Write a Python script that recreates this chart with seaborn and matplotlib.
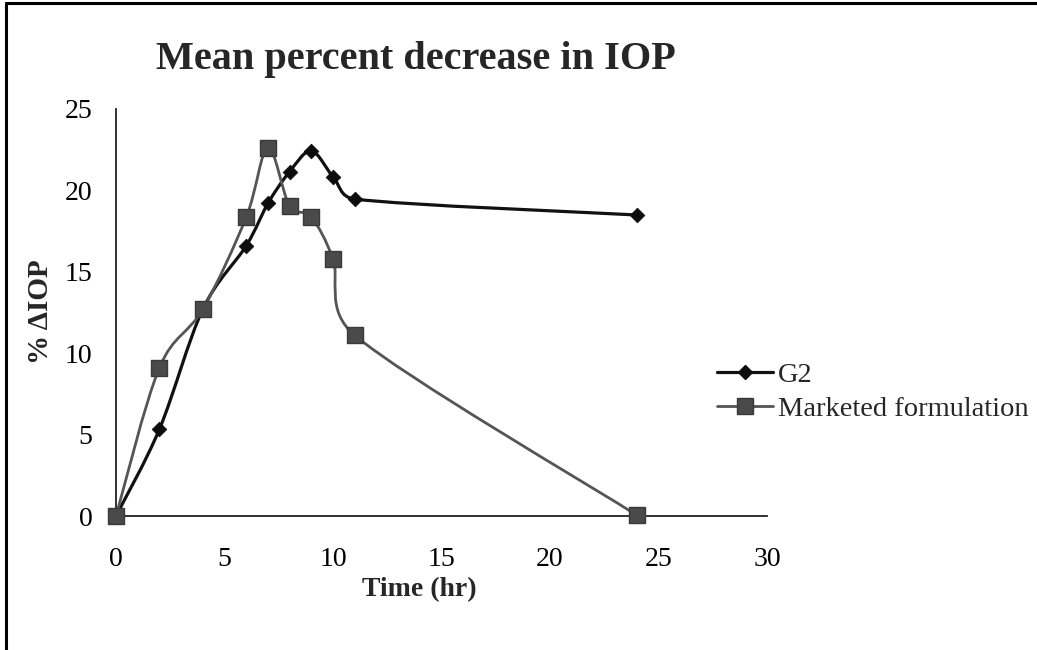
import numpy as np
import pandas as pd
import seaborn as sns
import matplotlib
matplotlib.use("Agg")
import matplotlib.pyplot as plt
from matplotlib.path import Path
from matplotlib.patches import PathPatch
from matplotlib.lines import Line2D

# ---- data ----
time_hr = [0, 2, 4, 6, 7, 8, 9, 10, 11, 24]
g2 = [0, 5.33, 12.7, 16.6, 19.2, 21.15, 22.42, 20.84, 19.47, 18.49]
marketed = [0, 9.11, 12.7, 18.35, 22.6, 19.04, 18.35, 15.79, 11.1, 0.05]
series_names = ["G2", "Marketed formulation"]

sns.set_theme(style="white")
plt.rcParams["font.family"] = ["Liberation Serif", "DejaVu Serif"]

fig = plt.figure(figsize=(10.37, 6.5), dpi=100)
ax = fig.add_axes([116/1037, 1 - 516/650, (767 - 116)/1037, (516 - 109)/650])

df = pd.DataFrame({
    "Time": time_hr * 2,
    "val": g2 + marketed,
    "series": [series_names[0]] * len(time_hr) + [series_names[1]] * len(time_hr),
})

# screen scale (px per data unit) used for Excel-like smoothing distances
SX = (767 - 116) / 30.0
SY = (516 - 109) / 25.0


def smooth_path(xs, ys):
    # Excel-style smoothed line: Bezier segments with tension 1/6,
    # control arms capped at half the segment length (in screen space)
    pts = np.column_stack([xs, ys]).astype(float)
    scr = pts * np.array([SX, SY])
    n = len(pts)
    verts = [pts[0]]
    codes = [Path.MOVETO]
    for i in range(n - 1):
        i0 = i - 1 if i > 0 else i
        i3 = i + 2 if i + 2 < n else i + 1
        d02 = np.linalg.norm(scr[i + 1] - scr[i0])
        d12 = np.linalg.norm(scr[i + 1] - scr[i])
        d13 = np.linalg.norm(scr[i3] - scr[i])
        f = 1 / 6.0
        g = 1 / 6.0
        if d02 > 0 and d02 / 6.0 >= d12 / 2.0:
            f = d12 / (2.0 * d02)
        if d13 > 0 and d13 / 6.0 >= d12 / 2.0:
            g = d12 / (2.0 * d13)
        c1 = pts[i] + (pts[i + 1] - pts[i0]) * f
        c2 = pts[i + 1] - (pts[i3] - pts[i]) * g
        verts += [c1, c2, pts[i + 1]]
        codes += [Path.CURVE4] * 3
    return Path(verts, codes)


line_colors = ["#111111", "#555555"]
line_widths = [2.3, 2.0]
line_z = [2.0, 3.0]
for name, lc, lw, z in zip(series_names, line_colors, line_widths, line_z):
    sub = df[df["series"] == name]
    ax.add_patch(PathPatch(smooth_path(sub["Time"].values, sub["val"].values),
                           facecolor="none", edgecolor=lc, lw=lw, zorder=z))

sns.scatterplot(data=df[df["series"] == series_names[0]], x="Time", y="val",
                marker="D", s=55, color="#0d0d0d", edgecolor="#0d0d0d",
                ax=ax, zorder=2.5, legend=False)
sns.scatterplot(data=df[df["series"] == series_names[1]], x="Time", y="val",
                marker="s", s=140, color="#4a4a4a", edgecolor="#3a3a3a",
                linewidth=1, ax=ax, zorder=3.5, legend=False, clip_on=False)

ax.set_xlim(0, 30)
ax.set_ylim(0, 25)
ax.set_xticks([0, 5, 10, 15, 20, 25, 30])
ax.set_yticks([0, 5, 10, 15, 20, 25])
for sp in ["top", "right"]:
    ax.spines[sp].set_visible(False)
for sp in ["left", "bottom"]:
    ax.spines[sp].set_color("#222222")
    ax.spines[sp].set_linewidth(1.3)
ax.tick_params(axis="both", direction="out", length=7, width=1.3,
               color="#222222", labelsize=20, labelcolor="black")
ax.tick_params(axis="x", pad=15)
ax.tick_params(axis="y", pad=10)
ax.set_xlabel("Time (hr)", fontsize=20, fontweight="bold")
ax.xaxis.set_label_coords((419 - 116) / 651, (516 - 590) / 407)
ax.xaxis.label.set_va("center")
ax.set_ylabel("% \u0394IOP", fontsize=21, fontweight="bold",
              family=["Liberation Serif", "DejaVu Serif"])
ax.yaxis.set_label_coords((41 - 116) / 651, (516 - 312) / 407)
ax.yaxis.label.set_va("center")
for lab in ax.get_xticklabels() + ax.get_yticklabels():
    lab.set_fontfamily(["Liberation Serif", "DejaVu Serif"])

fig.text(416/1037, 1 - 60/650, "Mean percent decrease in IOP", ha="center",
         va="center", fontsize=29, fontweight="bold")

handles = [
    Line2D([0], [0], color=line_colors[0], lw=2.3, marker="D", markersize=7.5,
           markerfacecolor="#0d0d0d", markeredgecolor="#0d0d0d"),
    Line2D([0], [0], color=line_colors[1], lw=2.0, marker="s", markersize=11,
           markerfacecolor="#4a4a4a", markeredgecolor="#3a3a3a"),
]
fig.legend(handles, series_names, loc="center left",
           bbox_to_anchor=(717/1037, 1 - 392/650), frameon=False,
           fontsize=20.5, handlelength=1.95, handletextpad=0.2, labelspacing=0.3,
           borderpad=0, borderaxespad=0)

# outer frame (top and left edges visible)
fig.add_artist(Line2D([6/1037, 1.0], [1 - 3/650, 1 - 3/650],
                      transform=fig.transFigure, color="black", lw=2.2))
fig.add_artist(Line2D([6/1037, 6/1037], [0.0, 1 - 3/650],
                      transform=fig.transFigure, color="black", lw=2.2))

fig.savefig("out.png", dpi=100, facecolor="white")
